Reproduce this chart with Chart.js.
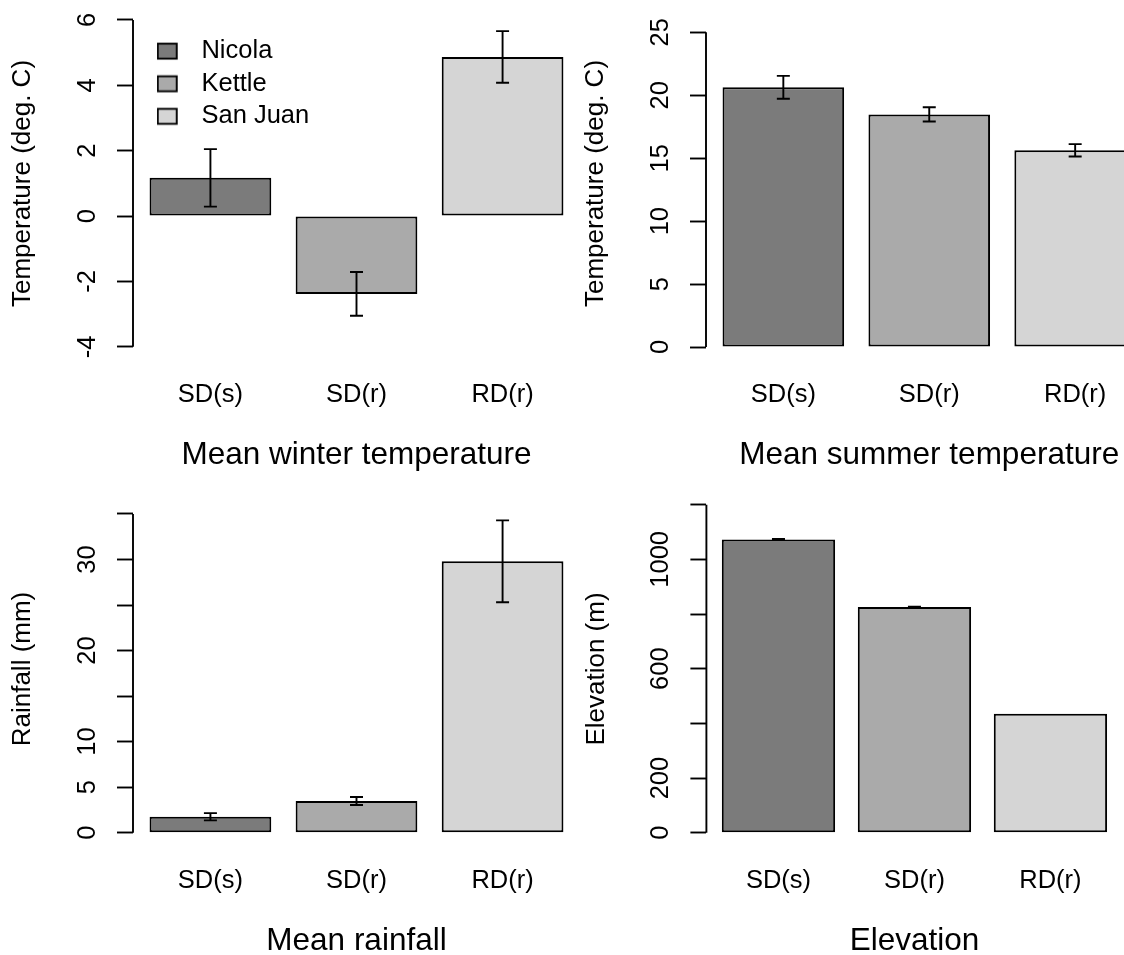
<!DOCTYPE html>
<html lang="en">
<head>
<meta charset="utf-8">
<title>Climate and elevation by site</title>
<script src="https://cdn.jsdelivr.net/npm/chart.js@4/dist/chart.umd.min.js"></script>
<style>
    html, body { margin: 0; padding: 0; background: #ffffff; overflow: hidden; }
    #figure { position: relative; width: 1124px; height: 955px; overflow: hidden; background: #ffffff; }
    #figure canvas { position: absolute; left: 0; top: -100px; }
</style>
</head>
<body>
<div id="figure">
    <canvas id="winterChart" width="1200" height="1100"></canvas>
    <canvas id="summerChart" width="1200" height="1100"></canvas>
    <canvas id="rainChart" width="1200" height="1100"></canvas>
    <canvas id="elevChart" width="1200" height="1100"></canvas>
</div>
<script>
// sites (legend) and groups (bar names)
const sites = ['Nicola', 'Kettle', 'San Juan'];
const groups = ['SD(s)', 'SD(r)', 'RD(r)'];

// mean winter temperature, deg. C, with +/- error
const winterMean = [1.17, -2.38, 4.87];
const winterErr = [0.88, 0.67, 0.79];
const winterTicks = [-4, -2, 0, 2, 4, 6];
const winterTickLabels = ['-4', '-2', '0', '2', '4', '6'];
const winterLimits = [-4.39, 6.385];

// mean summer temperature, deg. C
const summerMean = [20.63, 18.48, 15.63];
const summerErr = [0.91, 0.57, 0.49];
const summerTicks = [0, 5, 10, 15, 20, 25];
const summerTickLabels = ['0', '5', '10', '15', '20', '25'];
const summerLimits = [-1.0, 26.98];

// mean rainfall, mm
const rainMean = [1.75, 3.48, 29.8];
const rainErr = [0.4, 0.44, 4.5];
const rainTicks = [0, 5, 10, 15, 20, 25, 30, 35];
const rainTickLabels = ['0', '5', '10', '', '20', '', '30', ''];
const rainLimits = [-1.41, 37.36];

// elevation, m
const elevMean = [1073, 826, 435];
const elevErr = [2, 1, 0];
const elevTicks = [0, 200, 400, 600, 800, 1000, 1200];
const elevTickLabels = ['0', '200', '', '600', '', '1000', ''];
const elevLimits = [-46.8, 1244.6];

const fills = ['#7b7b7b', '#aaaaaa', '#d5d5d5'];

const FONT = '"Liberation Sans", Arial, Helvetica, sans-serif';
Chart.defaults.font.family = FONT;
Chart.defaults.color = '#000000';

const CANVAS_W = 1200, CANVAS_H = 1100, CANVAS_TOP = -100;
const Y_AXIS_W = 133;     // space left of the plot for ticks, labels and title
const X_AXIS_H = 115;     // space under the plot for bar names and title
const TICK_LEN = 16;
const LABEL_OFFSET = 45.5; // axis line to centre of tick labels
const LABEL_SIZE = 25.5, YTITLE_SIZE = 26, TITLE_SIZE = 31.5;
const LINE_W = 1.9;

// barplot layout: width 1, space 0.2, axis range widened by 4%
const barCenters = groups.map((g, i) => 0.7 + 1.2 * i);
const xMin = 0.2 - 0.04 * 3.4;
const xMax = 3.6 + 0.04 * 3.4;

const measureCtx = document.createElement('canvas').getContext('2d');
measureCtx.font = LABEL_SIZE + 'px ' + FONT;
function widestLabel(labels) {
    return Math.max(...labels.map(l => measureCtx.measureText(l).width));
}

// error bars drawn through the chart scales
const errorBars = {
    id: 'errorBars',
    afterDatasetsDraw(chart) {
        const {ctx, scales: {x, y}} = chart;
        ctx.save();
        ctx.strokeStyle = '#000000';
        ctx.lineWidth = LINE_W;
        chart.data.datasets.forEach(ds => {
            (ds.errors || []).forEach((err, i) => {
                if (!err) return;
                const px = x.getPixelForValue(ds.data[i].x);
                const hi = y.getPixelForValue(ds.data[i].y + err);
                const lo = y.getPixelForValue(ds.data[i].y - err);
                ctx.beginPath();
                ctx.moveTo(px, hi); ctx.lineTo(px, lo);
                ctx.moveTo(px - 6.5, hi); ctx.lineTo(px + 6.5, hi);
                ctx.moveTo(px - 6.5, lo); ctx.lineTo(px + 6.5, lo);
                ctx.stroke();
            });
        });
        ctx.restore();
    }
};

// the y axis line only runs from the first to the last tick
const axisLine = {
    id: 'axisLine',
    afterDraw(chart) {
        const {ctx, chartArea, scales: {y}} = chart;
        const t = y.ticks;
        ctx.save();
        ctx.strokeStyle = '#000000';
        ctx.lineWidth = LINE_W;
        ctx.beginPath();
        ctx.moveTo(chartArea.left, y.getPixelForValue(t[0].value));
        ctx.lineTo(chartArea.left, y.getPixelForValue(t[t.length - 1].value));
        ctx.stroke();
        ctx.restore();
    }
};

// put the legend inside the plot, near the top left corner
const legendPlacement = {
    id: 'legendPlacement',
    afterLayout(chart) {
        const lg = chart.legend;
        const area = chart.chartArea;
        lg.left = area.left + 16.6;
        lg.top = area.top + 23.8;
        lg.right = area.right;
        lg.bottom = area.bottom;
    }
};

function swatch(color) {
    const c = document.createElement('canvas');
    c.width = 32;
    c.height = 20;
    const g = c.getContext('2d');
    g.fillStyle = color;
    g.strokeStyle = '#000000';
    g.lineWidth = LINE_W;
    g.fillRect(1, 2.6, 19, 15);
    g.strokeRect(1, 2.6, 19, 15);
    return c;
}

function makeChart(id, p) {
    const yPad = LABEL_OFFSET - TICK_LEN - widestLabel(p.tickLabels) / 2;
    new Chart(document.getElementById(id), {
        type: 'bar',
        data: {
            datasets: [{
                data: p.mean.map((v, i) => ({ x: barCenters[i], y: v })),
                errors: p.err,
                backgroundColor: fills,
                borderColor: '#000000',
                borderWidth: 2,
                borderSkipped: false,
                categoryPercentage: 1,
                barPercentage: 1 / 1.2
            }]
        },
        options: {
            responsive: false,
            animation: false,
            events: [],
            layout: {
                padding: {
                    left: p.plot.left - Y_AXIS_W,
                    right: CANVAS_W - p.plot.right,
                    top: p.plot.top - CANVAS_TOP,
                    bottom: CANVAS_H - (p.plot.bottom - CANVAS_TOP) - X_AXIS_H
                }
            },
            scales: {
                x: {
                    type: 'linear',
                    min: xMin,
                    max: xMax,
                    bounds: 'data',
                    offset: false,
                    grid: { display: false, drawTicks: false, offset: false },
                    border: { display: false },
                    afterBuildTicks: s => { s.ticks = barCenters.map(v => ({ value: v })); },
                    afterFit: s => { s.height = X_AXIS_H; },
                    ticks: {
                        autoSkip: false,
                        maxRotation: 0,
                        padding: 20,
                        color: '#000000',
                        font: { size: LABEL_SIZE },
                        callback: (v, i) => groups[i]
                    },
                    title: {
                        display: true,
                        text: p.title,
                        color: '#000000',
                        font: { size: TITLE_SIZE },
                        padding: { top: 0, bottom: 0 }
                    }
                },
                y: {
                    min: p.limits[0],
                    max: p.limits[1],
                    bounds: 'data',
                    grid: {
                        drawOnChartArea: false,
                        drawTicks: true,
                        tickLength: TICK_LEN,
                        tickColor: '#000000',
                        tickWidth: LINE_W
                    },
                    border: { display: false },
                    afterBuildTicks: s => { s.ticks = p.ticks.map(v => ({ value: v })); },
                    afterFit: s => { s.width = Y_AXIS_W; },
                    ticks: {
                        autoSkip: false,
                        minRotation: 90,
                        maxRotation: 90,
                        crossAlign: 'center',
                        padding: yPad,
                        color: '#000000',
                        font: { size: LABEL_SIZE },
                        callback: (v, i) => p.tickLabels[i]
                    },
                    title: {
                        display: true,
                        text: p.yTitle,
                        color: '#000000',
                        font: { size: YTITLE_SIZE },
                        padding: { top: 7.4, bottom: 0 }
                    }
                }
            },
            plugins: {
                tooltip: { enabled: false },
                legend: p.legend ? {
                    display: true,
                    position: 'chartArea',
                    align: 'start',
                    labels: {
                        usePointStyle: true,
                        pointStyleWidth: 32,
                        boxHeight: 17,
                        padding: 7.1,
                        color: '#000000',
                        font: { size: LABEL_SIZE },
                        generateLabels: () => sites.map((s, i) => ({
                            text: s,
                            pointStyle: swatch(fills[i]),
                            fillStyle: fills[i],
                            strokeStyle: '#000000',
                            lineWidth: LINE_W,
                            hidden: false,
                            datasetIndex: 0,
                            index: i
                        }))
                    }
                } : { display: false }
            }
        },
        plugins: p.legend ? [errorBars, axisLine, legendPlacement] : [errorBars, axisLine]
    });
}

makeChart('winterChart', {
    title: 'Mean winter temperature', yTitle: 'Temperature (deg. C)',
    mean: winterMean, err: winterErr, ticks: winterTicks, tickLabels: winterTickLabels,
    limits: winterLimits, legend: true,
    plot: { left: 133, right: 580, top: 7.4, bottom: 359.6 }
});
makeChart('summerChart', {
    title: 'Mean summer temperature', yTitle: 'Temperature (deg. C)',
    mean: summerMean, err: summerErr, ticks: summerTicks, tickLabels: summerTickLabels,
    limits: summerLimits,
    plot: { left: 706, right: 1152.5, top: 7.4, bottom: 359.6 }
});
makeChart('rainChart', {
    title: 'Mean rainfall', yTitle: 'Rainfall (mm)',
    mean: rainMean, err: rainErr, ticks: rainTicks, tickLabels: rainTickLabels,
    limits: rainLimits,
    plot: { left: 133, right: 580, top: 492.5, bottom: 845.5 }
});
makeChart('elevChart', {
    title: 'Elevation', yTitle: 'Elevation (m)',
    mean: elevMean, err: elevErr, ticks: elevTicks, tickLabels: elevTickLabels,
    limits: elevLimits,
    plot: { left: 706.4, right: 1122.5, top: 492.5, bottom: 845.5 }
});
</script>
</body>
</html>
